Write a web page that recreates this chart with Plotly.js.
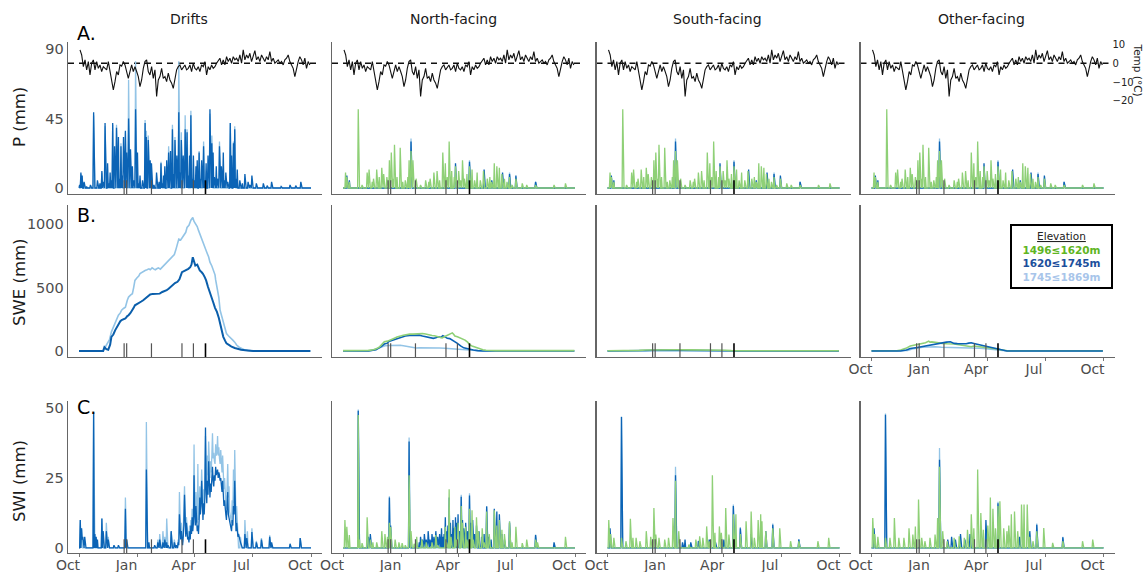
<!DOCTYPE html>
<html><head><meta charset="utf-8">
<script src="https://cdn.plot.ly/plotly-3.0.1.min.js"></script>
<style>html,body{margin:0;padding:0;background:#fff}#chart{width:1143px;height:572px}</style>
</head><body><div id="chart"></div>
<script>
// ---------- categories / labels ----------
const columnTitles = ['Drifts', 'North-facing', 'South-facing', 'Other-facing'];
const rowLetters = ['A.', 'B.', 'C.'];
const rowTitles = ['P (mm)', 'SWE (mm)', 'SWI (mm)'];
const monthTickDays = [0, 92, 182, 273, 365];          // days since 1 Oct
const monthTickLabels = ['Oct', 'Jan', 'Apr', 'Jul', 'Oct'];
const pTicks = [0, 45, 90];
const sweTicks = [0, 500, 1000];
const swiTicks = [0, 25, 50];
const tempTicks = [-20, -10, 0, 10];
const elevationBands = ['1496\u22641620m', '1620\u22641745m', '1745\u22641869m'];
const eventDays = [71, 75, 114, 162, 180, 199];

// ---------- air temperature (°C), one reading every 2.62 days from day 1.6 ----------
const tempFirstDay = 1.6, tempStepDays = 2.62;
const tempC = [7.1,4.4,-1.8,1.8,-3.5,0.9,-6.2,0,1.8,-3.5,0.9,-2.7,-0.9,-4.4,-1.8,-2.7,-3.5,0.9,-3.5,-8.9,
 -14.2,-9.8,-4.4,-6.2,-0.9,-1.5,0.9,-0.9,-5.3,-8,-4.4,-0.9,-4.4,-1.8,-4.4,-7.1,-12.4,-8.9,-2.7,0.9,
 1.8,-4.4,-6.2,-1.8,-8,-3.5,-17.7,-8.9,-7.1,-2.7,-8,-7.1,-9.8,-5.3,-8.9,-10.6,-13.3,-7.1,-3.5,-1.8,
 -0.9,-3.5,-1.8,-0.9,-3.5,-2.7,-0.9,-4.4,0,-2.7,-3.5,-1.8,-4.4,-0.9,-1.8,0.9,-6.2,-1.8,-3.5,-0.9,
 -2.7,-1.8,0,1.8,2.7,-0.9,1.8,-0.9,3.5,0.9,2.7,0,3.5,1.8,2.7,0.9,4.4,0,7.1,1.8,
 4.4,2.7,5.3,0.9,3.5,6.7,1.8,3.5,0.9,4.4,2.7,0.9,3.5,1.8,6.2,0.9,2.7,0,0.9,1.8,
 0,0.9,-0.9,1.8,2.7,4.4,0.9,-0.9,-2.7,-7.1,-2.7,0.9,3.5,1.8,-0.9,2.7,-2.7,0.9,-0.9];

// ---------- precipitation P (mm), [day, mm] ----------
const pDriftMid = [[1,2],[3,10],[5,8],[8,4],[12,1],[18,2],[23,49],[29,5],[33,3],[36,11],[38,4],[41,42],[45,16],[47,3],[49,10],
 [51,5],[53,42],[56,27],[59,39],[62,33],[64,6],[66,27],[68,8],[70,33],[73,37],[75,23],[78,45],[81,25],[84,14],[86,5],
 [89,51],[92,23],[94,3],[96,8],[100,5],[104,42],[106,33],[109,31],[112,18],[114,16],[118,2],[122,10],[126,4],[129,16],
 [131,3],[133,8],[135,14],[138,18],[141,23],[143,7],[144,24],[147,38],[149,9],[151,31],[154,21],[157,49],[159,10],
 [161,31],[164,21],[167,38],[170,36],[172,8],[174,21],[176,47],[178,6],[180,21],[182,5],[184,14],[186,18],[189,23],
 [191,6],[193,18],[196,27],[198,5],[200,16],[203,21],[206,51],[209,29],[211,23],[213,7],[216,14],[218,6],[221,27],
 [224,14],[227,23],[229,5],[231,10],[234,4],[238,42],[240,21],[243,29],[245,38],[247,6],[249,12],[253,5],[257,3],
 [261,9],[266,4],[269,2],[272,8],[279,3],[290,3],[296,1.5],[303,4],[318,1],[332,2],[341,1.5],[349,4]];
const pDriftHigh = [[3,9],[23,47],[36,10],[41,40],[53,41],[59,41],[66,29],[73,36],[78,70],[89,82],[104,44],[106,37],
 [109,34],[129,17],[141,27],[147,41],[151,33],[157,82],[161,36],[167,47],[170,38],[176,50],[189,24],[196,30],[206,48],
 [209,34],[221,30],[238,42],[243,30],[245,40]];
const pAspLow = [[4,10],[6,7],[10,4],[24,51],[30,2],[38,10],[41,12],[46,4],[48,6],[53,12],[57,7],[61,13],[64,9],[69,7],
 [73,18],[76,23],[79,6],[81,28],[85,7],[90,26],[94,4],[98,5],[102,7],[104,18],[107,24],[110,18],[115,6],[122,2],[130,5],
 [135,4],[137,6],[143,10],[148,11],[152,5],[157,23],[161,16],[164,7],[167,30],[171,11],[175,7],[177,14],[182,11],[185,5],
 [188,18],[191,6],[195,9],[199,14],[203,12],[207,5],[211,10],[216,5],[221,11],[227,6],[231,7],[234,4],[238,16],[242,14],
 [246,13],[250,9],[254,6],[258,4],[262,7],[266,2],[272,6],[282,3],[289,2],[303,2],[332,2],[350,3]];
const pAspMid = [[6,8],[10,5],[107,30],[177,16],[199,17],[222,12],[234,5],[251,10],[262,9],[272,8],[303,4]];
const pAspHigh = [[107,32],[199,18],[262,10],[303,4]];

// ---------- snow water equivalent SWE (mm), [day, mm] ----------
const sweDriftMid = [[0,0],[38,0],[40,30],[43,15],[46,10],[49,50],[51,112],[54,130],[57,165],[60,190],[62,217],[65,235],
 [67,243],[70,250],[73,256],[76,275],[78,282],[81,300],[84,321],[86,340],[88,360],[91,368],[94,373],[98,390],[101,400],
 [104,412],[107,425],[110,440],[112,446],[116,450],[120,451],[124,450],[127,452],[131,465],[134,470],[138,480],[141,490],
 [144,505],[147,517],[150,530],[151,535],[155,545],[158,565],[162,621],[165,628],[168,634],[171,640],[172,647],[175,660],
 [177,681],[179,739],[181,700],[183,673],[186,680],[188,660],[190,634],[193,620],[195,608],[198,580],[200,556],[203,504],
 [205,470],[208,438],[211,386],[214,340],[217,308],[220,260],[222,217],[225,150],[227,112],[230,80],[232,60],[237,45],
 [240,34],[245,24],[248,18],[255,10],[265,5],[274,0],[364,0]];
const sweDriftHigh = [[0,0],[38,0],[40,20],[44,50],[48,90],[51,151],[54,190],[57,230],[60,260],[62,282],[65,300],[67,321],
 [70,335],[73,345],[76,400],[78,425],[81,440],[84,451],[86,500],[88,556],[91,575],[94,590],[96,610],[99,621],[101,630],
 [104,634],[107,640],[110,647],[112,640],[115,655],[118,645],[120,640],[123,650],[125,655],[128,645],[131,660],[134,673],
 [136,685],[139,700],[141,715],[144,725],[147,739],[150,760],[152,791],[155,840],[157,882],[160,875],[162,890],[165,921],
 [168,935],[170,973],[173,990],[176,1030],[179,1052],[181,1020],[184,1000],[186,980],[188,950],[190,921],[193,880],
 [196,843],[198,820],[201,778],[204,740],[206,700],[209,670],[211,647],[214,600],[215,560],[217,504],[220,420],[222,321],
 [225,260],[227,217],[230,170],[232,138],[235,120],[237,112],[240,95],[242,86],[245,70],[248,47],[252,30],[256,18],
 [260,10],[266,5],[274,0],[364,0]];
const sweNorthLow = [[0,3],[35,3],[40,5],[48,10],[54,21],[58,35],[60,47],[63,60],[65,73],[70,78],[72,81],[78,92],[80,99],
 [85,110],[88,117],[92,120],[95,125],[100,130],[105,133],[110,133],[115,135],[120,138],[125,138],[130,134],[136,125],
 [140,122],[144,120],[148,112],[152,108],[156,104],[160,115],[164,125],[168,135],[172,143],[174,132],[176,118],[180,112],
 [185,100],[188,96],[192,86],[196,70],[200,47],[203,40],[206,34],[210,25],[214,16],[220,10],[225,6],[231,4],[240,3],[364,3]];
const sweNorthMid = [[0,0],[40,0],[52,10],[58,25],[60,34],[65,55],[70,62],[72,75],[78,85],[85,95],[92,110],[98,118],
 [105,122],[111,125],[115,122],[120,125],[125,118],[130,112],[135,106],[138,104],[142,100],[146,105],[150,112],[154,108],
 [157,120],[160,113],[164,100],[168,98],[170,92],[175,78],[180,60],[185,40],[190,25],[195,20],[200,12],[205,8],[212,3],
 [220,0],[364,0]];
const sweNorthHigh = [[0,0],[40,0],[48,8],[52,15],[55,25],[58,30],[62,38],[66,42],[72,44],[78,45],[85,47],[90,46],[95,42],
 [100,38],[105,30],[110,26],[115,24],[120,25],[130,26],[140,27],[145,25],[152,24],[160,22],[165,20],[175,16],[185,12],
 [195,8],[205,5],[210,2],[220,0],[364,0]];
const sweSouthLow = [[0,2],[40,2],[50,5],[60,8],[75,10],[90,11],[110,10],[130,9],[150,10],[170,9],[185,6],[195,3],[205,2],[364,2]];
const sweSouthMid = [[0,0],[45,0],[60,5],[80,8],[110,8],[140,7],[170,7],[190,3],[205,0],[364,0]];
const sweSouthHigh = [[0,0],[45,0],[60,3],[90,5],[130,5],[170,4],[195,1],[205,0],[364,0]];
const sweOtherLow = [[0,2],[40,2],[46,8],[54,21],[61,39],[69,47],[77,55],[85,65],[90,78],[92,70],[95,72],[103,65],[111,60],
 [119,57],[130,55],[140,47],[150,40],[157,34],[161,40],[170,35],[179,30],[185,25],[192,20],[200,15],[203,10],[208,5],[214,2],[364,2]];
const sweOtherMid = [[0,0],[46,0],[55,8],[61,20],[72,28],[84,40],[95,50],[104,60],[112,65],[118,70],[124,73],[130,60],
 [135,58],[142,55],[149,57],[153,62],[157,65],[161,60],[169,50],[175,45],[180,40],[186,33],[190,25],[197,18],[202,12],
 [208,5],[213,0],[364,0]];
const sweOtherHigh = [[0,0],[50,0],[57,5],[64,15],[72,25],[80,29],[90,32],[100,34],[110,30],[120,29],[130,28],[140,26],
 [150,25],[160,27],[170,22],[180,18],[190,12],[200,6],[208,2],[214,0],[364,0]];

// ---------- surface water input SWI (mm) ----------
const swiDriftMidSpikes = [[2,10],[4,7],[5,3],[6,4],[9,4],[23,48.5],[25,5],[27,4],[29,3],[36,10.5],[38,6],[43,6],[46,3],
 [55,1],[62,1],[73,14],[75,3],[106,28],[110,2],[119,1],[124,2],[127,3],[132,2],[135,3],[138,2],[140,1],[145,6],[150,2],
 [153,1],[261,5],[264,3.5],[272,5.7],[279,2],[287,3],[300,4],[303,2],[332,1.5],[348,3.5]];
const swiDriftMidMeltStart = 155;
const swiDriftMidMelt = [0,2,1,12,8,3,6,2,1,4,8,19,10,4,9,
 5,3,4,2,6,3,8,5,11,6,9,26,12,8,15,9,6,8,5,10,18,12,15,24,14,10,16,12,18,43,22,16,24,19,31,22,18,23,20,25,
 29,24,22,26,24,29,26,27,28,25,27,26,24,25,22,20,24,18,15,17,13,12,10,14,20,12,11,9,8,7,6,10,8,15,12,24,9,6,9,5,4,5,3,3,2,1];
const swiDriftHighSpikes = [[2,10],[4,7],[23,48],[36,10.5],[43,9],[46,4],[73,18],[106,45],[124,3],[127,5],[132,6],[135,4],
 [138,10.5],[145,6],[150,3],[254,4],[261,10],[265,6],[272,7],[279,2.5],[287,3.5],[300,4.5],[348,3.5]];
const swiDriftHighMeltStart = 156;
const swiDriftHighMelt = [3,2,20,10,4,9,4,2,6,12,22,12,6,11,7,5,6,3,8,5,10,7,14,8,12,37,18,11,20,12,9,30,10,14,22,15,19,28,
 18,14,21,16,26,40,28,22,33,26,38,30,25,31,27,33,41,32,34,31,30,37,33,34,40,33,36,32,30,35,29,27,33,25,21,25,18,16,14,20,
 30,18,22,13,11,10,9,17,12,28,16,35,13,9,15,7,6];
const swiNorthLow = [[3,10],[6,7.6],[10,4.6],[24,47.5],[26,3],[30,1.7],[38,11],[43,3],[47,2],[53,2],[61,6],[66,5],[70,4],
 [73,9],[75,7.5],[82,3],[88,2],[93,1.7],[98,1],[104,26],[107,6],[112,1.5],[116,4],[124,3],[131,2],[140,2],[146,4.6],
 [149,1],[161,7.6],[163,2],[167,21],[170,4],[176,7.6],[178,3],[181,9],[186,15],[188,9],[193,7.6],[195,3],[199,14],
 [203,13.5],[205,3],[210,11],[213,6],[219,7],[222,2],[226,13],[230,5],[238,13.5],[242,8],[246,10],[250,6.5],[254,5],
 [262,9.4],[266,2],[272,7.6],[282,1.7],[289,3],[303,3],[306,2],[350,4]];
const swiNorthMid = [[24,49],[40,4],[43,5],[73,18],[75,8],[104,38],[106,3],[115,3],[120,2],[122,4],[125,3],[128,5],[131,3],
 [134,6],[137,3],[140,5],[143,4],[146,6],[149,4],[152,5],[155,7],[157,4],[159,5],[161,11],[163,6],[165,8],[167,18],[169,9],
 [171,5],[173,10],[175,7],[177,11],[179,9],[181,12],[183,6],[186,18.3],[188,10],[190,7],[193,9],[196,6],[199,18.7],
 [201,9],[204,10],[207,5],[210,8],[214,6],[218,4],[222,5],[226,14.8],[229,4],[233,3],[238,14],[242,13],[246,12],[250,5],
 [254,3],[262,9],[303,4.6],[332,2]];
const swiNorthHigh = [[24,49.5],[73,18.5],[104,39.5],[186,19],[199,19.5],[226,15],[262,9.6],[303,4.8]];
const swiSouthLow = [[2,10],[5,5],[10,3.6],[22,3.6],[29,2.4],[36,10.4],[40,3.6],[45,3.6],[51,2.4],[61,6],[68,4],[73,14.3],
 [76,4.8],[81,3.6],[90,3],[96,3.6],[103,10.7],[107,24],[112,6],[128,1.2],[139,3],[145,4.2],[150,3.6],[156,7.7],[160,2.4],
 [165,26],[169,5.4],[176,7.7],[179,5.4],[186,14.3],[191,4.8],[198,12],[202,12],[209,5],[218,9.5],[226,13],[231,3.6],
 [237,10],[241,12],[243,9.5],[249,6],[260,7],[271,7],[288,2.4],[301,2.4],[331,2.4],[348,3.6]];
const swiSouthMid = [[4,7],[22,46.8],[107,26],[118,2],[122,3],[131,2],[143,2.5],[160,3],[170,2],[183,3],[198,15],[209,7],
 [226,5],[249,6],[260,8.3],[301,3]];
const swiSouthHigh = [[22,47],[107,29],[198,15.5],[209,7.5],[260,8.7],[301,3.2]];
const swiOtherLow = [[2,10.7],[5,5],[10,4],[22,3.6],[29,3.6],[36,10.7],[43,3.6],[51,3.6],[59,7],[65,4.8],[69,7.7],[74,17.3],
 [79,3.6],[84,2.4],[92,3.6],[100,4.8],[104,10.7],[107,29],[112,6],[119,2.4],[130,3.6],[138,4.2],[146,3.6],[151,6.5],
 [157,12],[161,7],[167,28],[172,12.5],[176,6.5],[183,8],[187,18],[191,14],[195,7],[199,15],[202,16.7],[208,7],[213,6],
 [216,8],[220,12],[225,13],[230,6],[236,15.5],[240,15.5],[245,15.5],[249,4],[254,2.4],[260,6],[271,7.1],[285,1.8],
 [301,2.4],[332,2.4],[348,3]];
const swiOtherMid = [[4,7],[22,47.6],[107,31.5],[120,3],[126,4],[132,3],[140,5],[147,3],[155,5],[180,10],[199,16],[233,4],
 [249,6],[260,8.3],[301,3.8]];
const swiOtherHigh = [[22,48],[107,35.7],[199,16.5],[260,8.7],[301,4]];

// ---------- helpers ----------
const N_DAYS = 366;
const dayIndex = Array.from({length: N_DAYS}, (_, i) => i);
function dailyFromSpikes(list, runStart, run) {
  const y = new Array(N_DAYS).fill(0);
  list.forEach(([d, v]) => { y[d] = v; });
  if (run) run.forEach((v, i) => { y[runStart + i] = v; });
  return y;
}
const GREEN = '#8fd077', DARK = '#0b63b5', LIGHT = '#93c4e6';

const W = 1143, H = 572;
const colLeftPx = [68, 332, 596.5, 860.5], colWidthPx = 254;
const rowPx = [[42, 194], [205, 357], [401, 553]];
const yRanges = [[-3.9, 94.5], [-47, 1150], [-1.8, 52.5]];
const yTickSets = [pTicks, sweTicks, swiTicks];
const tempRange = [-69.5, 11.3];
const xRange = [-17.3, 382.3];

const sfx = n => n === 1 ? '' : String(n);
const traces = [];
const layout = {
  width: W, height: H, margin: {l: 0, r: 0, t: 0, b: 0},
  paper_bgcolor: '#fff', plot_bgcolor: 'rgba(0,0,0,0)', showlegend: false,
  font: {family: 'DejaVu Sans, Verdana, sans-serif', color: '#4d4d4d'},
  shapes: [], annotations: []
};

function lineTrace(k, x, y, color, width) {
  traces.push({type: 'scatter', mode: 'lines', x: x, y: y, xaxis: 'x' + sfx(k), yaxis: 'y' + sfx(k),
    line: {color: color, width: width}, hoverinfo: 'skip'});
}
function spikeTrace(k, list, color, width, runStart, run) {
  lineTrace(k, dayIndex, dailyFromSpikes(list, runStart, run), color, width);
}
function pairTrace(k, pairs, color, width) {
  lineTrace(k, pairs.map(p => p[0]), pairs.map(p => p[1]), color, width);
}

for (let r = 0; r < 3; r++) {
  for (let c = 0; c < 4; c++) {
    const k = r * 4 + c + 1;
    const showX = (r === 2) || (r === 1 && c === 3);
    layout['xaxis' + sfx(k)] = {
      domain: [colLeftPx[c] / W, (colLeftPx[c] + colWidthPx) / W], anchor: 'y' + sfx(k), range: xRange,
      showline: true, linecolor: '#666', linewidth: 1.3, showgrid: false, zeroline: false,
      tickvals: monthTickDays, ticktext: monthTickLabels, showticklabels: showX,
      ticks: showX ? 'outside' : '', ticklen: 3, tickcolor: '#777', tickwidth: 1,
      ticklabelshift: -11, ticklabelstandoff: -4, tickfont: {size: 14, color: '#4d4d4d'}, fixedrange: true
    };
    layout['yaxis' + sfx(k)] = {
      domain: [1 - rowPx[r][1] / H, 1 - rowPx[r][0] / H], anchor: 'x' + sfx(k), range: yRanges[r],
      showline: true, linecolor: '#666', linewidth: 1.3, showgrid: false, zeroline: false,
      tickvals: yTickSets[r], showticklabels: c === 0, ticks: '',
      tickfont: {size: 14.5, color: '#4d4d4d'}, fixedrange: true
    };
    // event markers
    eventDays.forEach((d, i) => {
      const last = i === eventDays.length - 1;
      layout.shapes.push({type: 'line', xref: 'x' + sfx(k), yref: 'y' + sfx(k) + ' domain',
        x0: d, x1: d, y0: 0, y1: 0.09, line: {color: last ? '#000' : '#555', width: last ? 1.6 : 1.2}});
    });
  }
}

// temperature axes overlaying row A panels
for (let c = 0; c < 4; c++) {
  const k = c + 1, tk = 13 + c;
  const isRight = c === 3;
  layout['yaxis' + tk] = {
    overlaying: 'y' + sfx(k), anchor: 'x' + sfx(k), side: 'right', range: tempRange,
    showline: false, showgrid: false, zeroline: false, tickvals: tempTicks,
    showticklabels: isRight, ticks: '', ticklabelstandoff: -3,
    tickfont: {size: 10, color: '#222'}, fixedrange: true
  };
  layout.shapes.push({type: 'line', xref: 'x' + sfx(k) + ' domain', yref: 'y' + tk, x0: 0.0, x1: 0.985, y0: 0, y1: 0,
    line: {color: '#111', width: 1.3, dash: '6px,5px'}, layer: 'below'});
}

// ---- row A : P + temperature ----
spikeTrace(1, pDriftHigh, LIGHT, 1.3);
spikeTrace(1, pDriftMid, DARK, 1.3);
for (let c = 1; c < 4; c++) {
  const k = c + 1;
  spikeTrace(k, pAspHigh, LIGHT, 1.3);
  spikeTrace(k, pAspMid, DARK, 1.3);
  spikeTrace(k, pAspLow, GREEN, 1.3);
}
for (let c = 0; c < 4; c++) {
  traces.push({type: 'scatter', mode: 'lines', x: tempC.map((_, i) => tempFirstDay + i * tempStepDays), y: tempC,
    xaxis: 'x' + sfx(c + 1), yaxis: 'y' + (13 + c), line: {color: '#111', width: 1.1}, hoverinfo: 'skip'});
}

// ---- row B : SWE ----
pairTrace(5, sweDriftHigh, LIGHT, 1.6);
pairTrace(5, sweDriftMid, '#0a5eab', 2.0);
pairTrace(6, sweNorthHigh, LIGHT, 1.5);
pairTrace(6, sweNorthMid, DARK, 1.6);
pairTrace(6, sweNorthLow, GREEN, 1.6);
pairTrace(7, sweSouthHigh, LIGHT, 1.5);
pairTrace(7, sweSouthMid, DARK, 1.5);
pairTrace(7, sweSouthLow, GREEN, 1.6);
pairTrace(8, sweOtherHigh, LIGHT, 1.5);
pairTrace(8, sweOtherLow, GREEN, 1.6);
pairTrace(8, sweOtherMid, DARK, 1.6);

// ---- row C : SWI ----
spikeTrace(9, swiDriftHighSpikes, LIGHT, 1.3, swiDriftHighMeltStart, swiDriftHighMelt);
spikeTrace(9, swiDriftMidSpikes, DARK, 1.3, swiDriftMidMeltStart, swiDriftMidMelt);
[[10, swiNorthHigh, swiNorthMid, swiNorthLow], [11, swiSouthHigh, swiSouthMid, swiSouthLow],
 [12, swiOtherHigh, swiOtherMid, swiOtherLow]].forEach(([k, hi, mid, lo]) => {
  spikeTrace(k, hi, LIGHT, 1.3);
  spikeTrace(k, mid, DARK, 1.3);
  spikeTrace(k, lo, GREEN, 1.3);
});

// ---------- text ----------
const colTitleOffsetPx = 121;
columnTitles.forEach((t, c) => layout.annotations.push({text: t, xref: 'paper', yref: 'paper',
  x: (colLeftPx[c] + colTitleOffsetPx) / W, y: 1 - 19 / H, showarrow: false, xanchor: 'center', yanchor: 'middle',
  font: {size: 14, color: '#1a1a1a'}}));
const letterY = [33, 215, 407];
rowLetters.forEach((t, r) => layout.annotations.push({text: t, xref: 'paper', yref: 'paper',
  x: 75 / W, y: 1 - letterY[r] / H, showarrow: false, xanchor: 'left', yanchor: 'middle',
  font: {size: 19, color: '#000'}}));
const titleY = [117, 283, 481];
rowTitles.forEach((t, r) => layout.annotations.push({text: t, xref: 'paper', yref: 'paper',
  x: 19 / W, y: 1 - titleY[r] / H, showarrow: false, textangle: -90, xanchor: 'center', yanchor: 'middle',
  font: {size: 16.5, color: '#1a1a1a'}}));
layout.annotations.push({text: 'Temp (\u00B0C)', xref: 'paper', yref: 'paper', x: 1137.5 / W, y: 1 - 70 / H,
  showarrow: false, textangle: 90, xanchor: 'center', yanchor: 'middle', font: {size: 10.5, color: '#222'}});
const bandColors = ['#5fb523', '#1c4f9c', '#a8c5ea'];
layout.annotations.push({
  text: '<u>Elevation</u><br>' + elevationBands.map((b, i) => `<b><span style="color:${bandColors[i]}">${b}</span></b>`).join('<br>'),
  xref: 'paper', yref: 'paper', x: 1061.5 / W, y: 1 - 256.5 / H, showarrow: false, xanchor: 'center', yanchor: 'middle',
  align: 'center', font: {size: 10.5, color: '#222'}, bordercolor: '#000', borderwidth: 2, borderpad: 3,
  bgcolor: '#fff', width: 93, height: 55
});

Plotly.newPlot('chart', traces, layout, {staticPlot: true, displayModeBar: false});
</script></body></html>
